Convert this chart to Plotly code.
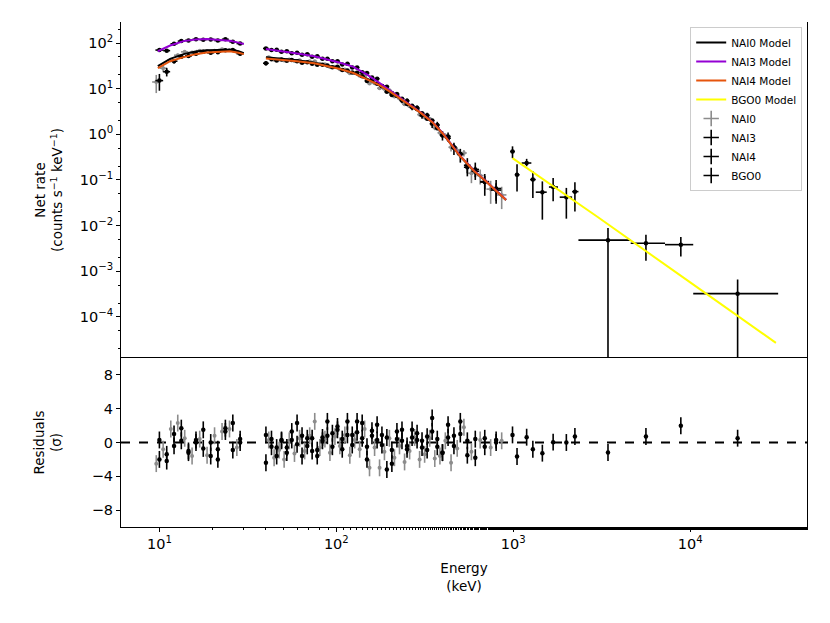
import plotly.graph_objects as go

# ---------------- data ----------------
E_low = [10.0, 11.0, 12.1, 13.3, 14.6, 16.1, 17.7, 19.5, 21.4, 23.6, 26.0, 28.6]
E_low_b = [9.6, 10.5, 11.6, 12.7, 13.9, 15.3, 16.9, 18.6, 20.5, 22.6, 24.9, 27.4]
dE_low = [0.5, 0.5, 0.55, 0.6, 0.65, 0.7, 0.8, 0.9, 0.95, 1.05, 1.15, 1.3]
E_high = [40, 43, 46, 49, 52.5, 56, 60, 64, 68.5, 73, 78, 83.5, 89, 95, 101.5, 108, 115.5, 123, 131, 140,
          149, 159, 170, 181, 193, 206, 220, 235, 251, 268, 286, 305, 326, 348, 372, 398, 428, 462, 502, 550,
          610, 690, 800]
E_high_b = [41.5, 44.5, 47.5, 50.7, 54.2, 58, 62, 66.2, 70.7, 75.5, 80.7, 86.2, 92, 98.2, 104.7, 111.7, 119.2, 127,
            135.5, 144.5, 154, 164.5, 175.5, 187, 199.5, 213, 227.5, 243, 259.5, 277, 295.5, 315.5, 337, 360, 385, 413,
            445, 482, 526, 580, 650, 745, 860]
dE_high = [1.5, 1.5, 1.5, 1.7, 1.7, 1.9, 2, 2.1, 2.2, 2.4, 2.6, 2.7, 2.8, 3, 3.2, 3.4, 3.7, 3.8, 4, 4.5,
           4.5, 5, 5.5, 6, 6, 6.5, 7, 7.5, 8, 8.5, 9, 10, 10.5, 11, 12, 13, 15, 17, 20, 24,
           30, 40, 55]

# NAI0 (gray)
nai0_low = [14, 28, 42, 54, 64, 62, 68, 67, 68, 73, 70, 64]
nai0_low_err = [6, 5, 4, 4.5, 4.5, 4.5, 4.5, 4.5, 4.5, 4.5, 4.5, 4.5]
nai0_low_res = [-2.5, -0.8, 1.6, 2.3, 0.5, -1.6, 0.4, -1.5, 0.8, 1.3, 1.6, -0.6]
nai0_high = [48.5, 43.2, 43.6, 41.2, 43.4, 40.5, 41.9, 38.2, 39.6, 39.8, 34.9, 34.1, 29.9, 30.3,
             26.6, 26.3, 21.8, 22.0, 19.1, 18.9, 13.0, 13.1, 10.2, 9.8, 9.2,
             6.7, 6.05, 4.55, 4.1, 3.8, 2.7, 2.35, 2.2, 1.4, 1.08,
             0.93, 0.52, 0.44, 0.39, 0.14, 0.125, 0.063, 0.047]
nai0_high_err = [2.2, 2.1, 2.0, 2.0, 1.9, 1.9, 1.8, 1.7, 1.7, 1.6, 1.5, 1.5, 1.4, 1.3, 1.3, 1.2, 1.1, 1.05, 1.0, 0.9,
                 0.8, 0.75, 0.7, 0.62, 0.55, 0.48, 0.43, 0.38, 0.34, 0.3, 0.27, 0.23, 0.2, 0.17, 0.14, 0.12, 0.1, 0.08, 0.065, 0.055,
                 0.045, 0.033, 0.024]
nai0_high_res = [0.3, -1.8, -0.9, -2.0, 0.2, -1.3, 0.5, -1.0, 0.8, 2.5, -0.6, 0.4, -1.2, 0.7, -0.4, 0.9, -1.5, 0.3, -0.8, 1.6,
                 -3.0, -0.6, -3.0, -1.1, 0.5, -1.8, -0.4, -2.3, -1.0, 0.6, -2.0, -1.4, 0.5, -1.9, -1.6, 0.2, -2.4, -0.7, 1.8, -1.1,
                 0.3, -0.6, 0.2]

# NAI3 (black, upper)
nai3_low = [70, 68, 96, 110, 114, 121, 118, 120, 113, 121, 106, 97]
nai3_low_err = [5, 4.5, 5, 5, 5, 5, 5, 5, 5, 5, 5, 5]
nai3_low_res = [0.3, -2.2, -0.4, 0.2, -1.0, 0.0, -0.7, 0.0, -0.8, 1.3, -0.9, 0.4]
nai3_high = [76, 70, 71, 64, 66, 60, 61, 55, 57, 50, 51, 45, 45, 40, 40, 34, 35, 29, 29, 23,
             22, 17.5, 16.5, 11.5, 11, 8.0, 7.6, 5.5, 5.4, 3.9, 3.8, 2.6, 2.6, 1.7, 1.6, 0.95, 0.9, 0.5, 0.36, 0.21,
             0.17, 0.09, 0.065]
nai3_high_err = [3, 3, 3, 3, 3, 2.8, 2.8, 2.6, 2.6, 2.5, 2.4, 2.3, 2.2, 2.1, 2, 1.9, 1.8, 1.7, 1.6, 1.5,
                 1.4, 1.3, 1.2, 1.1, 1.0, 0.9, 0.8, 0.7, 0.65, 0.55, 0.5, 0.42, 0.38, 0.32, 0.28, 0.22, 0.2, 0.15, 0.12, 0.09,
                 0.07, 0.045, 0.035]
nai3_high_res = [0.9, 0.4, -0.6, 0.2, -1.2, 0.3, 2.3, 0.8, -0.4, 0.5, -0.9, 0.6, 2.5, 1.1, 1.9, 0.4, 2.5, 0.9, 1.2, 2.3,
                 -0.5, 0.8, 2.1, -0.3, 0.6, -0.9, 1.3, 0.2, -0.4, 1.5, 0.3, -0.6, 0.7, 2.9, 0.4, -1.2, 2.1, 0.8, 2.5, 0.2,
                 -1.8, 0.5, 0.0]

# NAI4 (black, lower)
nai4_low = [15, 23.5, 40, 50, 52, 58, 64, 61, 63, 69, 70, 58]
nai4_low_err = [6, 5, 4.5, 4.5, 4.5, 4.5, 4.5, 4.5, 4.5, 4.5, 4.5, 4.5]
nai4_low_res = [-2.0, -1.4, 1.0, 1.7, -1.2, 0.3, 1.5, -1.6, -2.0, 1.7, 2.3, 0.0]
nai4_high = [36, 44.3, 41.5, 43.6, 41.1, 42.6, 39.8, 36.8, 38, 35.3, 33.4, 33.2, 32.2, 29.3, 30, 25.6, 24.9, 22.6, 22.3, 18.6,
             14.8, 15.3, 12.8, 11.5, 8.5, 7.3, 6.9, 6.0, 4.6, 4.2, 3.6, 2.9, 2.2, 2.0, 1.36, 0.95, 0.82, 0.53, 0.37, 0.19,
             0.155, 0.092, 0.06]
nai4_high_err = [4.0, 2.0, 1.9, 1.9, 1.8, 1.8, 1.7, 1.6, 1.6, 1.5, 1.4, 1.4, 1.3, 1.2, 1.2, 1.1, 1.0, 1.0, 0.9, 0.85,
                 0.75, 0.7, 0.65, 0.6, 0.5, 0.45, 0.4, 0.36, 0.32, 0.28, 0.25, 0.21, 0.18, 0.16, 0.13, 0.11, 0.09, 0.075, 0.06, 0.05,
                 0.04, 0.03, 0.025]
nai4_high_res = [-2.4, -0.5, -1.6, 0.3, -0.6, 1.3, -0.2, -1.6, 0.5, -1.0, -1.6, 0.2, 0.8, -0.5, 1.5, -0.8, 0.9, -0.3, 2.5, 0.5,
                 -2.0, 1.4, 0.3, 0.9, -3.2, -2.5, 0.4, 1.5, -0.8, 0.6, 1.1, 0.2, -0.9, 1.3, -0.5, -1.2, 0.6, -0.4, 1.0, -1.5,
                 0.4, -0.5, 0.3]

# BGO0
bgo_E = [990, 1050, 1190, 1290, 1460, 1680, 1995, 2230, 3430, 5620, 8850, 18530]
bgo_E_lo = [960, 1020, 1115, 1245, 1340, 1590, 1830, 2150, 2335, 4610, 7200, 10400]
bgo_E_hi = [1020, 1085, 1265, 1340, 1545, 1790, 2150, 2335, 4610, 7200, 10400, 31400]
bgo_y = [0.42, 0.13, 0.235, 0.102, 0.054, 0.070, 0.042, 0.0555, 0.0048, 0.0041, 0.00383, 0.000323]
bgo_y_lo = [0.30, 0.056, 0.20, 0.040, 0.0135, 0.034, 0.0142, 0.0205, 1e-9, 0.0017, 0.0021, 1e-9]
bgo_y_hi = [0.545, 0.22, 0.29, 0.155, 0.093, 0.11, 0.067, 0.089, 0.0089, 0.0063, 0.0056, 0.00066]
bgo_res = [0.9, -1.66, 0.63, -0.79, -1.26, 0.04, 0.0, 0.71, -1.19, 0.71, 1.98, 0.51]

# Models
model_E_low = [9.8, 11.5, 13.7, 16, 18.5, 22, 25, 28, 30]
model_E_high = [40, 50, 60, 75, 90, 105, 125, 150, 175, 200, 250, 300, 350, 400, 500, 600, 700, 800, 910]
nai0_model_low = [31, 45, 57, 65, 69, 71, 71, 66, 60]
nai3_model_low = [66, 88, 110, 120, 122, 117, 112, 102, 95]
nai4_model_low = [28, 40, 49, 57, 62, 65, 66, 61, 57]
nai0_model_high = [49, 45, 42, 37, 32, 27.5, 22, 16.3, 12, 8.7, 4.8, 2.95, 1.82, 1.03, 0.335, 0.157, 0.094, 0.057, 0.0365]
nai3_model_high = [74, 66, 59, 51, 43, 37, 30, 20, 13.5, 9.3, 5.0, 3.0, 1.85, 1.05, 0.34, 0.16, 0.095, 0.058, 0.037]
nai4_model_high = [46, 43, 40, 36, 31, 27, 22, 16, 12, 8.7, 4.8, 2.95, 1.82, 1.03, 0.335, 0.157, 0.094, 0.057, 0.0365]
bgo_model_E = [990, 3000, 10000, 30500]
bgo_model = [0.30, 0.0154, 0.00057, 0.000027]

# axis tick labels
x_tickvals = [10, 100, 1000, 10000]
x_ticktext = ["10<sup>1</sup>", "10<sup>2</sup>", "10<sup>3</sup>", "10<sup>4</sup>"]
y_tickvals = [1e-4, 1e-3, 1e-2, 1e-1, 1, 10, 100]
y_ticktext = ["10<sup>−4</sup>", "10<sup>−3</sup>", "10<sup>−2</sup>", "10<sup>−1</sup>",
              "10<sup>0</sup>", "10<sup>1</sup>", "10<sup>2</sup>"]
r_tickvals = [-8, -4, 0, 4, 8]
r_ticktext = ["−8", "−4", "0", "4", "8"]

# ---------------- figure ----------------
FONT = "DejaVu Sans"
GRAY = "#8c8c8c"
BLACK = "#000000"
PURPLE = "#9400d3"
ORANGE = "#e6550d"
YELLOW = "#ffff00"

fig = go.Figure()

def add_det(E, dE, y, err, res, color, msize):
    fig.add_trace(go.Scatter(
        x=E, y=y, mode="markers", xaxis="x", yaxis="y", showlegend=False,
        marker=dict(size=msize, color=color),
        error_y=dict(type="data", array=err, color=color, thickness=1.6, width=0),
        error_x=dict(type="data", array=dE, color=color, thickness=1.6, width=0)))
    fig.add_trace(go.Scatter(
        x=E, y=res, mode="markers", xaxis="x", yaxis="y2", showlegend=False,
        marker=dict(size=msize, color=color),
        error_y=dict(type="constant", value=1, color=color, thickness=1.6, width=0)))

add_det(E_low_b + E_high_b, dE_low + dE_high, nai0_low + nai0_high, nai0_low_err + nai0_high_err,
        nai0_low_res + nai0_high_res, GRAY, 4)
add_det(E_low + E_high, dE_low + dE_high, nai3_low + nai3_high, nai3_low_err + nai3_high_err,
        nai3_low_res + nai3_high_res, BLACK, 4.5)
add_det(E_low + E_high, dE_low + dE_high, nai4_low + nai4_high, nai4_low_err + nai4_high_err,
        nai4_low_res + nai4_high_res, BLACK, 4.5)

# BGO
bgo_xp = [h - e for h, e in zip(bgo_E_hi, bgo_E)]
bgo_xm = [e - l for e, l in zip(bgo_E, bgo_E_lo)]
bgo_yp = [h - v for h, v in zip(bgo_y_hi, bgo_y)]
bgo_ym = [v - l for v, l in zip(bgo_y, bgo_y_lo)]
fig.add_trace(go.Scatter(
    x=bgo_E, y=bgo_y, mode="markers", xaxis="x", yaxis="y", showlegend=False,
    marker=dict(size=4.5, color=BLACK),
    error_y=dict(type="data", symmetric=False, array=bgo_yp, arrayminus=bgo_ym, color=BLACK, thickness=1.6, width=0),
    error_x=dict(type="data", symmetric=False, array=bgo_xp, arrayminus=bgo_xm, color=BLACK, thickness=1.6, width=0)))
fig.add_trace(go.Scatter(
    x=bgo_E, y=bgo_res, mode="markers", xaxis="x", yaxis="y2", showlegend=False,
    marker=dict(size=4.5, color=BLACK),
    error_y=dict(type="constant", value=1, color=BLACK, thickness=1.6, width=0)))

# zero line in residuals
fig.add_shape(type="line", xref="x domain", x0=0, x1=1, yref="y2", y0=0, y1=0,
              line=dict(color=BLACK, width=2, dash="dash"), layer="below")

# Models
def add_model(Elow, vlow, Ehigh, vhigh, color, name, rank):
    fig.add_trace(go.Scatter(
        x=Elow + [None] + Ehigh, y=vlow + [None] + vhigh, mode="lines", xaxis="x", yaxis="y",
        line=dict(color=color, width=2), name=name, legendrank=rank, connectgaps=False))

add_model(model_E_low, nai0_model_low, model_E_high, nai0_model_high, BLACK, "NAI0 Model", 1)
add_model(model_E_low, nai3_model_low, model_E_high, nai3_model_high, PURPLE, "NAI3 Model", 2)
add_model(model_E_low, nai4_model_low, model_E_high, nai4_model_high, ORANGE, "NAI4 Model", 3)
fig.add_trace(go.Scatter(x=bgo_model_E, y=bgo_model, mode="lines", xaxis="x", yaxis="y",
                         line=dict(color=YELLOW, width=2), name="BGO0 Model", legendrank=4))

# legend entries for data
for nm, col, rk in [("NAI0", GRAY, 5), ("NAI3", BLACK, 6), ("NAI4", BLACK, 7), ("BGO0", BLACK, 8)]:
    fig.add_trace(go.Scatter(x=[None], y=[None], mode="markers", name=nm, legendrank=rk, xaxis="x", yaxis="y",
                             marker=dict(symbol="cross-thin", size=11, color=col, line=dict(width=1.6, color=col))))

split = 169 / 505
tick_font = dict(family=FONT, size=14.5, color=BLACK)
title_font = dict(family=FONT, size=13.5, color=BLACK)
axis_common = dict(showline=True, mirror=True, linecolor=BLACK, linewidth=1, ticks="outside",
                   tickcolor=BLACK, ticklen=4, tickwidth=1, showgrid=False, zeroline=False,
                   tickfont=tick_font)

fig.update_layout(
    width=822, height=615,
    margin=dict(l=113, r=23, t=14, b=96),
    paper_bgcolor="white", plot_bgcolor="white",
    font=dict(family=FONT, size=14, color=BLACK),
    showlegend=True,
    hovermode=False,
    xaxis=dict(type="log", range=[0.783, 4.66], anchor="y2", domain=[0, 1],
               tickvals=x_tickvals, ticktext=x_ticktext,
               minor=dict(ticks="outside", ticklen=2, tickcolor=BLACK, tickwidth=0.8),
               title=dict(text="Energy<br>(keV)", font=title_font, standoff=12),
               **axis_common),
    xaxis2=dict(type="log", range=[0.783, 4.66], anchor="y", overlaying="x", matches="x",
                showticklabels=False, ticks="", showline=False, showgrid=False, zeroline=False),
    yaxis=dict(type="log", range=[-4.9, 2.46], domain=[split, 1], anchor="x",
               tickvals=y_tickvals, ticktext=y_ticktext,
               minor=dict(ticks="outside", ticklen=2, tickcolor=BLACK, tickwidth=0.8),
               title=dict(text="Net rate<br>(counts s<sup>−1</sup> keV<sup>−1</sup>)",
                          font=title_font, standoff=13),
               **axis_common),
    yaxis2=dict(range=[-10, 10], domain=[0, split], anchor="x",
                tickvals=r_tickvals, ticktext=r_ticktext,
                title=dict(text="Residuals<br>(σ)", font=title_font, standoff=26),
                **axis_common),
    legend=dict(x=0.993, y=0.99, xanchor="right", yanchor="top",
                bgcolor="rgba(255,255,255,0.8)", bordercolor="#cccccc", borderwidth=1,
                font=dict(family=FONT, size=10.5, color=BLACK), tracegroupgap=0, itemwidth=30),
)

fig.write_html("out.html")
